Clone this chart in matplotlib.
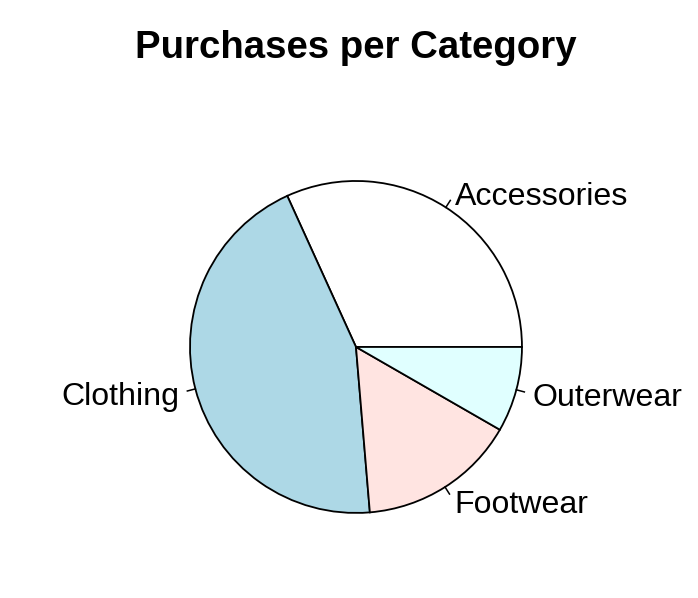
import numpy as np
import matplotlib
matplotlib.use('Agg')
import matplotlib.pyplot as plt

plt.rcParams['font.family'] = ['Liberation Sans', 'DejaVu Sans']

# purchases per category
categories = ['Accessories', 'Clothing', 'Footwear', 'Outerwear']
counts = [1240, 1737, 599, 324]
colors = ['white', '#ADD8E6', '#FFE4E1', '#E0FFFF']

fig = plt.figure(figsize=(6.98, 5.98), dpi=100)
# square axes centred on the pie, radius 1 -> ~166 px
ax = fig.add_axes([0.2235, 0.0853, 0.573, 0.669])
lim = 200 / 166
ax.axis('off')

wedges, _ = ax.pie(counts, colors=colors, startangle=0, counterclock=True,
                   radius=1.0,
                   wedgeprops=dict(edgecolor='black', linewidth=1.3))
ax.set_xlim(-lim, lim)
ax.set_ylim(-lim, lim)
ax.set_aspect('equal')

# R style labels with small tick marks
for w, lab in zip(wedges, categories):
    mid = np.deg2rad((w.theta1 + w.theta2) / 2)
    c, s = np.cos(mid), np.sin(mid)
    ax.plot([c, 1.05 * c], [s, 1.05 * s], color='black', lw=1.1)
    ha = 'left' if c > 0 else 'right'
    ax.text(1.1 * c, 1.1 * s, lab, ha=ha, va='center_baseline', fontsize=23.1)

fig.text(0.51, 1 - 48 / 598, 'Purchases per Category', ha='center', va='center',
         fontsize=27.6, fontweight='bold')

fig.savefig('out.png', dpi=100)
